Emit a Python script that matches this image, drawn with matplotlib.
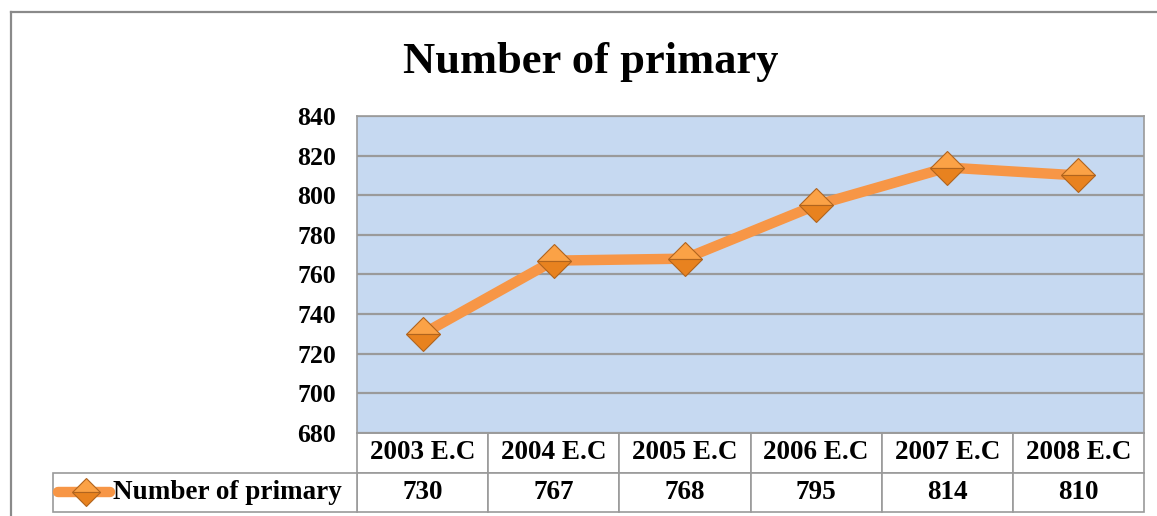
import matplotlib
matplotlib.use("Agg")
import matplotlib.pyplot as plt
from matplotlib.patches import Rectangle
from matplotlib.lines import Line2D
import matplotlib.transforms as mtransforms

categories = ["2003 E.C", "2004 E.C", "2005 E.C", "2006 E.C", "2007 E.C", "2008 E.C"]
values = [730, 767, 768, 795, 814, 810]
series_name = "Number of primary"
title = "Number of primary"
yticks = [680, 700, 720, 740, 760, 780, 800, 820, 840]

W, H = 1157, 516
DPI = 100
fig = plt.figure(figsize=(W / DPI, H / DPI), dpi=DPI)
fig.patch.set_facecolor("white")

FONT = ["Liberation Serif", "DejaVu Serif"]
GRID = "#9a9a9a"
ORANGE = "#F79646"

# plot area in pixels
px_l, px_r, px_t, px_b = 357, 1144, 116, 433
ax = fig.add_axes([px_l / W, 1 - px_b / H, (px_r - px_l) / W, (px_b - px_t) / H])
ax.set_facecolor("#C6D9F1")
ax.set_xlim(-0.5, len(categories) - 0.5)
ax.set_ylim(680, 840)
ax.set_yticks(yticks)
ax.set_yticklabels([str(t) for t in yticks], fontfamily=FONT, fontweight="bold", fontsize=18.5)
ax.set_xticks([])
ax.tick_params(axis="y", length=0, pad=15)
for s in ax.spines.values():
    s.set_color(GRID)
    s.set_linewidth(1.2)
ax.yaxis.grid(True, color=GRID, linewidth=1.6)
ax.set_axisbelow(True)

x = list(range(len(categories)))
ax.plot(x, values, color=ORANGE, linewidth=7.5, solid_capstyle="round", zorder=3)
ax.plot(x, values, linestyle="none", marker="D", markersize=17,
        markerfacecolor="#FBA246", markerfacecoloralt="#E8821F", fillstyle="top",
        markeredgecolor="#B0641E", markeredgewidth=0.8, zorder=4)

# data table
row_h = 39.5 / (px_b - px_t)
trans = mtransforms.blended_transform_factory(ax.transData, ax.transAxes)
tfont = dict(fontfamily=FONT, fontweight="bold", fontsize=19.5, color="black")
for i, (c, v) in enumerate(zip(categories, values)):
    for r in range(2):
        rect = Rectangle((i - 0.5, -row_h * (r + 1)), 1, row_h, transform=trans,
                         facecolor="white", edgecolor=GRID, linewidth=1.2, clip_on=False)
        ax.add_patch(rect)
    ax.text(i, -row_h * 0.5, c, transform=trans, ha="center", va="center", **tfont)
    ax.text(i, -row_h * 1.5, str(v), transform=trans, ha="center", va="center", **tfont)

# legend cell of data row
lc_l = 53
lab_rect = Rectangle((lc_l / W, 1 - (px_b + 2 * 39.5) / H), (px_l - lc_l) / W, 39.5 / H,
                     transform=fig.transFigure, facecolor="white", edgecolor=GRID,
                     linewidth=1.2, clip_on=False)
fig.patches.append(lab_rect)
ky = 1 - (px_b + 1.5 * 39.5) / H
fig.lines.append(Line2D([58 / W, 110 / W], [ky, ky], transform=fig.transFigure,
                        color=ORANGE, linewidth=7.5, solid_capstyle="round"))
fig.lines.append(Line2D([85.5 / W], [ky], transform=fig.transFigure, marker="D",
                        markersize=14, markerfacecolor="#FBA246", markerfacecoloralt="#E8821F",
                        fillstyle="top", markeredgecolor="#B0641E", markeredgewidth=0.8,
                        linestyle="none"))
fig.text(113 / W, ky, series_name, ha="left", va="center", **tfont)

# title
fig.text(591 / W, 1 - 62 / H, title, ha="center", va="center", fontfamily=FONT,
         fontweight="bold", fontsize=32)

# chart outer border (left and top visible)
fig.lines.append(Line2D([11 / W, 11 / W], [0, 1 - 12 / H], transform=fig.transFigure,
                        color="#8a8a8a", linewidth=1.6))
fig.lines.append(Line2D([11 / W, 1], [1 - 12 / H, 1 - 12 / H], transform=fig.transFigure,
                        color="#8a8a8a", linewidth=1.6))

fig.savefig("out.png", dpi=DPI)
